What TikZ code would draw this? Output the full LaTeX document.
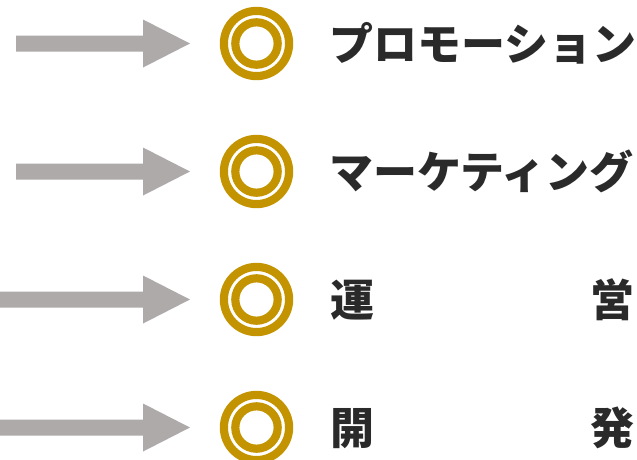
\documentclass[tikz,border=0pt]{standalone}
\usepackage{fontspec}
\newfontfamily\jp{Noto Sans CJK JP}
\definecolor{arrowgray}{HTML}{AEAAA9}
\definecolor{ringgold}{HTML}{C39300}
\definecolor{txtdark}{HTML}{2A2A2A}
\tikzset{
  arrowshape/.style={fill=arrowgray, draw=none},
  ringouter/.style={draw=ringgold, line width=8.2pt},
  ringinner/.style={draw=ringgold, line width=8.2pt},
  mark node/.style={circle, inner sep=0pt, minimum size=74pt, draw=none},
  label text/.style={font=\jp\bfseries\fontsize{44pt}{44pt}\selectfont, text=txtdark, inner sep=0pt},
}
\begin{document}
\begin{tikzpicture}[x=1pt, y=-1pt]
\useasboundingbox (0,0) rectangle (637,459);
% rows
\foreach \i/\yy/\xs in {1/43.5/16, 2/171.5/16, 3/299.5/-2, 4/427.5/-2}{
  \fill[arrowshape] (\xs,\yy-8) -- (143,\yy-8) -- (143,\yy-24) -- (190,\yy) -- (143,\yy+24) -- (143,\yy+8) -- (\xs,\yy+8) -- cycle;
  \node[mark node] (m\i) at (256.5,\yy) {};
  \draw[ringouter] (m\i.center) circle (32.6);
  \draw[ringinner] (m\i.center) circle (21.2);
}
\node[label text, anchor=base west] (t1) at (329,60.2) {プロモーション};
\node[label text, anchor=base west] (t2) at (329,188.2) {マーケティング};
\node[label text, anchor=base west] (t3a) at (330,316.2) {運};
\node[label text, anchor=base east] (t3b) at (635,316.2) {営};
\node[label text, anchor=base west] (t4a) at (330,444.2) {開};
\node[label text, anchor=base east] (t4b) at (635,444.2) {発};
\end{tikzpicture}
\end{document}
